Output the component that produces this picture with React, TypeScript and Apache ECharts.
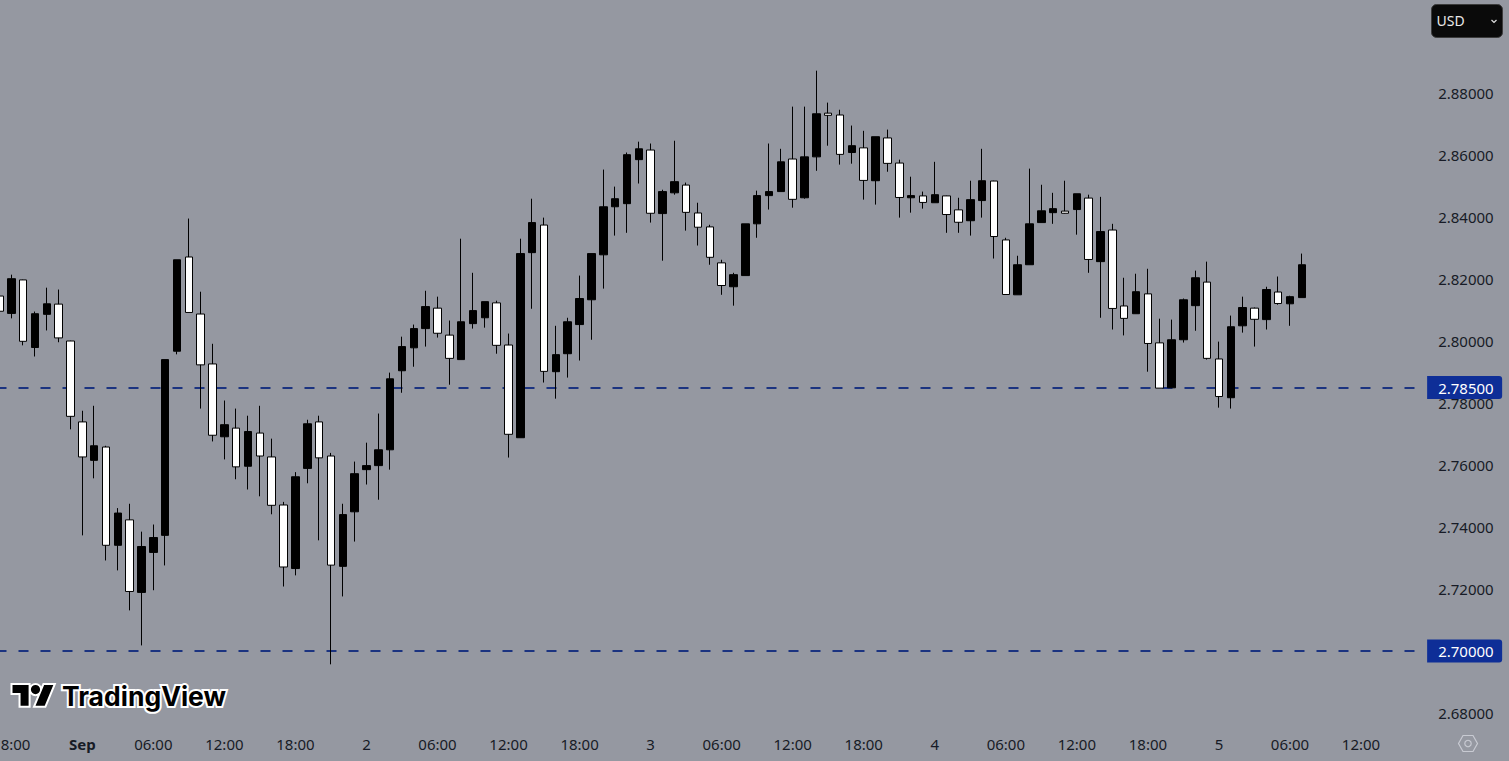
import React, { useEffect, useRef } from "react";
import * as echarts from "echarts";

const tickLabels = ["18:00","Sep","06:00","12:00","18:00","2","06:00","12:00","18:00","3","06:00","12:00","18:00","4","06:00","12:00","18:00","5","06:00","12:00"];
const barsBeforeFirstTick = 1;
const barsPerTick = 6;
const slotCount = 121;

const opens = [2.8145,2.8089,2.8197,2.7979,2.8086,2.8119,2.8000,2.7739,2.7615,2.7658,2.7341,2.7423,2.7189,2.7318,2.7373,2.7967,2.8271,2.8087,2.7926,2.7691,2.7719,2.7596,2.7703,2.7626,2.7471,2.7266,2.7589,2.7739,2.7629,2.7273,2.7449,2.7585,2.7598,2.7649,2.7904,2.7978,2.8040,2.8106,2.8019,2.7940,2.8056,2.8075,2.8123,2.7987,2.7688,2.8285,2.8374,2.7901,2.7959,2.8053,2.8133,2.8278,2.8433,2.8443,2.8585,2.8616,2.8411,2.8478,2.8503,2.8413,2.8368,2.8252,2.8175,2.8211,2.8378,2.8469,2.8482,2.8587,2.8462,2.8594,2.8735,2.8729,2.8608,2.8623,2.8517,2.8655,2.8574,2.8462,2.8468,2.8446,2.8468,2.8423,2.8388,2.8453,2.8516,2.8326,2.8149,2.8246,2.8382,2.8414,2.8419,2.8424,2.8461,2.8256,2.8358,2.8113,2.8088,2.8152,2.7994,2.7849,2.8004,2.8114,2.8190,2.7942,2.7817,2.8049,2.8106,2.8069,2.8158,2.8120,2.8140];
const closes = [2.8096,2.8201,2.7999,2.8088,2.8120,2.8010,2.7757,2.7626,2.7662,2.7341,2.7445,2.7192,2.7337,2.7366,2.7940,2.8262,2.8092,2.7923,2.7696,2.7730,2.7594,2.7708,2.7629,2.7470,2.7271,2.7562,2.7733,2.7623,2.7277,2.7440,2.7572,2.7598,2.7649,2.7878,2.7982,2.8040,2.8111,2.8025,2.7944,2.8062,2.8098,2.8127,2.7986,2.7699,2.8282,2.8382,2.7902,2.7956,2.8062,2.8137,2.8282,2.8433,2.8459,2.8601,2.8620,2.8412,2.8482,2.8514,2.8415,2.8367,2.8270,2.8179,2.8214,2.8378,2.8469,2.8482,2.8578,2.8457,2.8594,2.8733,2.8728,2.8602,2.8630,2.8518,2.8659,2.8573,2.8463,2.8469,2.8447,2.8472,2.8408,2.8383,2.8456,2.8517,2.8337,2.8150,2.8246,2.8378,2.8420,2.8427,2.8412,2.8475,2.8263,2.8353,2.8105,2.8073,2.8159,2.7992,2.7848,2.8004,2.8133,2.8204,2.7944,2.7821,2.8046,2.8108,2.8070,2.8166,2.8121,2.8143,2.8246];
const lows = [2.8095,2.8073,2.7986,2.7950,2.8034,2.7996,2.7715,2.7373,2.7557,2.7292,2.7260,2.7131,2.7018,2.7196,2.7276,2.7957,2.8092,2.7782,2.7676,2.7618,2.7554,2.7521,2.7499,2.7441,2.7208,2.7244,2.7541,2.7357,2.6957,2.7176,2.7353,2.7537,2.7488,2.7585,2.7833,2.7917,2.7982,2.8011,2.7859,2.7940,2.8040,2.8043,2.7959,2.7624,2.7688,2.8104,2.7866,2.7814,2.7882,2.7937,2.8004,2.8169,2.8340,2.8349,2.8508,2.8382,2.8259,2.8472,2.8356,2.8308,2.8246,2.8149,2.8114,2.8211,2.8333,2.8424,2.8482,2.8430,2.8459,2.8549,2.8630,2.8569,2.8572,2.8456,2.8440,2.8546,2.8398,2.8414,2.8427,2.8446,2.8349,2.8349,2.8340,2.8398,2.8266,2.8149,2.8149,2.8246,2.8382,2.8378,2.8411,2.8343,2.8220,2.8075,2.8037,2.8018,2.8088,2.7901,2.7848,2.7849,2.7995,2.8033,2.7940,2.7785,2.7782,2.8027,2.7982,2.8037,2.8117,2.8049,2.8140];
const highs = [2.8146,2.8214,2.8198,2.8095,2.8172,2.8166,2.8001,2.7775,2.7791,2.7662,2.7461,2.7475,2.7385,2.7408,2.7940,2.8262,2.8395,2.8159,2.7991,2.7808,2.7782,2.7759,2.7791,2.7685,2.7481,2.7577,2.7746,2.7759,2.7639,2.7475,2.7611,2.7672,2.7766,2.7898,2.8014,2.8053,2.8162,2.8143,2.8066,2.8330,2.8220,2.8127,2.8130,2.8024,2.8330,2.8459,2.8398,2.8049,2.8075,2.8211,2.8282,2.8553,2.8498,2.8608,2.8643,2.8637,2.8488,2.8646,2.8511,2.8446,2.8375,2.8262,2.8220,2.8378,2.8485,2.8637,2.8620,2.8756,2.8756,2.8872,2.8769,2.8746,2.8695,2.8678,2.8659,2.8682,2.8585,2.8530,2.8482,2.8578,2.8469,2.8462,2.8517,2.8620,2.8517,2.8333,2.8275,2.8556,2.8504,2.8478,2.8517,2.8475,2.8472,2.8465,2.8378,2.8204,2.8217,2.8233,2.8072,2.8069,2.8137,2.8227,2.8256,2.7998,2.8082,2.8143,2.8108,2.8175,2.8208,2.8146,2.8282];
const priceLevels = [2.785, 2.7];

const BG = "#9598a1";
const TEXT = "#171b26";
const FONT = "'Noto Sans', sans-serif";
const LOGO_ICON = "M14 22H7V11H0V4h14v18zM28 22h-8l7.5-18h8L28 22zM24 8a4 4 0 1 1-8 0 4 4 0 0 1 8 0z";

echarts.graphic.registerShape("tvIcon", echarts.graphic.extendPath(LOGO_ICON, {}));

export default function App() {
  const ref = useRef<HTMLDivElement>(null);
  useEffect(() => {
    document.body.style.margin = "0";
    const chart = echarts.init(ref.current!, undefined, { renderer: "svg" });
    const categories = Array.from({ length: slotCount }, (_, i) => {
      const k = i - barsBeforeFirstTick;
      return k >= 0 && k % barsPerTick === 0 ? tickLabels[k / barsPerTick] ?? "" : "";
    });
    chart.setOption({
      animation: false,
      backgroundColor: BG,
      grid: { left: -6.5, top: 31, width: 1432.64, height: 682, containLabel: false, outerBoundsMode: "none" },
      xAxis: {
        type: "category",
        data: categories,
        boundaryGap: true,
        axisLine: { show: false },
        axisTick: { show: false },
        splitLine: { show: false },
        axisLabel: {
          interval: 0,
          margin: 23,
          color: TEXT,
          fontFamily: FONT,
          fontSize: 15,
          hideOverlap: false,
          formatter: (v: string) => (v === "Sep" ? "{b|Sep}" : v),
          rich: { b: { fontWeight: "bold", fontFamily: FONT, fontSize: 15, color: TEXT } },
        },
      },
      yAxis: {
        type: "value",
        position: "right",
        min: 2.68,
        max: 2.9,
        interval: 0.02,
        scale: true,
        axisLine: { show: false },
        axisTick: { show: false },
        splitLine: { show: false },
        axisLabel: {
          margin: 12,
          showMaxLabel: false,
          color: TEXT,
          fontFamily: FONT,
          fontSize: 15,
          formatter: (v: number) => v.toFixed(5),
        },
      },
      series: [
        {
          type: "candlestick",
          barWidth: 8,
          clip: false,
          data: opens.map((o, i) => [o, closes[i], lows[i], highs[i]]),
          itemStyle: {
            color: "#000000",
            color0: "#ffffff",
            borderColor: "#000000",
            borderColor0: "#000000",
            borderWidth: 1,
          },
          markLine: {
            silent: true,
            z: 1,
            symbol: "none",
            animation: false,
            precision: 5,
            lineStyle: { color: "#1b3380", width: 2, type: [10, 12], dashOffset: 18.5 },
            label: {
              show: true,
              position: "end",
              distance: 1,
              formatter: (p: any) => Number(p.value).toFixed(5),
              color: "#ffffff",
              fontFamily: FONT,
              fontSize: 15,
              backgroundColor: "#0e2e97",
              padding: [3, 7, 3, 11],
              width: 57,
              height: 17,
              lineHeight: 17,
              borderRadius: [0, 3, 3, 0],
            },
            data: priceLevels.map((v) => ({ yAxis: v })),
          },
        },
      ],
      graphic: [
        {
          type: "tvIcon",
          x: 12.5,
          y: 680.4,
          scaleX: 1.15,
          scaleY: 1.15,
          z: 20,
          style: { fill: "#000000", stroke: "#ffffff", lineWidth: 3.5, strokeFirst: true },
        },
        {
          type: "text",
          x: 62,
          y: 682,
          z: 20,
          style: {
            text: "TradingView",
            fontFamily: "Inter, sans-serif",
            fontWeight: 700,
            fontSize: 26.5,
            fill: "#000000",
            stroke: "#ffffff",
            lineWidth: 4,
            strokeFirst: true,
          },
        },
        {
          type: "rect",
          z: 20,
          shape: { x: 1431.5, y: 4.5, width: 71, height: 33, r: 5 },
          style: { fill: "#0a0a0a", stroke: "#3c3c3c", lineWidth: 1 },
        },
        {
          type: "text",
          x: 1436.5,
          y: 13,
          z: 21,
          style: { text: "USD", fontFamily: FONT, fontSize: 14, fill: "#e8e8e8" },
        },
        {
          type: "polyline",
          z: 21,
          shape: { points: [[1491.5, 20], [1494, 22.5], [1496.5, 20]] },
          style: { fill: "none", stroke: "#e0e0e0", lineWidth: 1.2 },
        },
        {
          type: "polygon",
          z: 20,
          shape: { points: [[1458.5, 743.5], [1463, 735.5], [1473, 735.5], [1477.5, 743.5], [1473, 751.5], [1463, 751.5]] },
          style: { fill: "none", stroke: "#c8cad2", lineWidth: 1.2 },
        },
        {
          type: "circle",
          z: 20,
          shape: { cx: 1468, cy: 743.5, r: 3.2 },
          style: { fill: "none", stroke: "#c8cad2", lineWidth: 1.2 },
        },
      ],
    });
    return () => chart.dispose();
  }, []);
  return <div ref={ref} style={{ position: "absolute", left: 0, top: 0, width: 1509, height: 761 }} />;
}
